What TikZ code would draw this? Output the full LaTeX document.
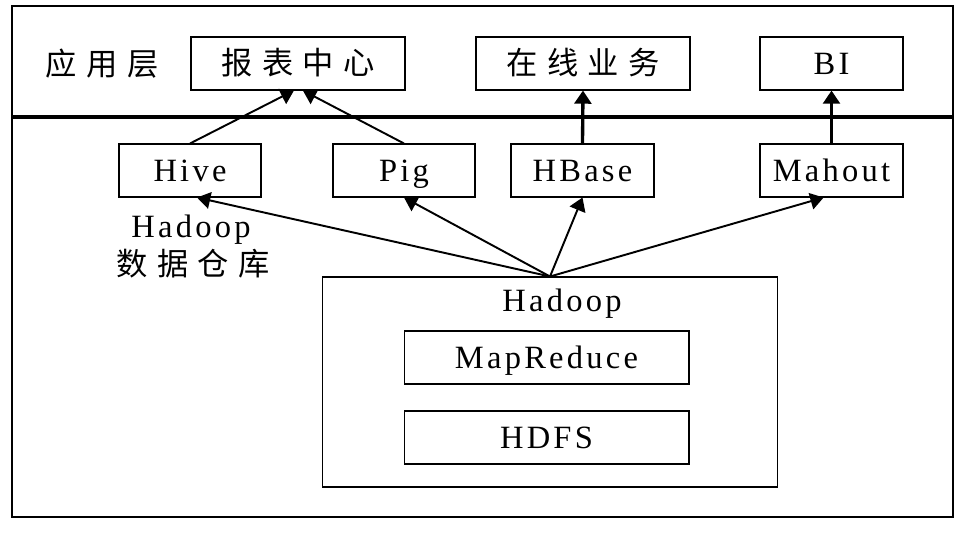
\documentclass[tikz,border=0pt]{standalone}
\usepackage{fontspec}
\usetikzlibrary{arrows.meta}
\newfontfamily\latinfont[LetterSpace=10]{Liberation Serif}
\newfontfamily\cjk[LetterSpace=30]{Noto Sans CJK SC}

\begin{document}
\begin{tikzpicture}[
    x=0.02cm, y=-0.02cm,
    >={Triangle[length=7.5pt, width=9.5pt]},
    box/.style={draw, line width=0.6pt, minimum height=1.06cm, inner sep=0pt,
        text height=15pt, text depth=3pt},
    lat/.style={font=\latinfont\fontsize{18.5}{21}\selectfont},
    zh/.style={font=\cjk\fontsize{17.8}{20}\selectfont},
    arr/.style={->, line width=1.1pt},
    thickarr/.style={->, line width=1.9pt},
]
\useasboundingbox (0,0) rectangle (967,534);

% frame and layer divider
\draw[line width=0.6pt] (12,6) rectangle (953,517);
\draw[line width=2.3pt] (11,117) -- (954,117);

% application layer
\node[zh] (applabel) at (102,64) {应用层};
\node[box, zh, minimum width=4.28cm] (report) at (298,63.5) {报表中心};
\node[box, zh, minimum width=4.28cm] (online) at (583,63.5) {在线业务};
\node[box, lat, minimum width=2.86cm] (bi) at (831.5,63.5) {BI};

% tools on top of hadoop
\node[box, lat, minimum width=2.84cm] (hive) at (190,170.5) {Hive};
\node[box, lat, minimum width=2.84cm] (pig) at (404,170.5) {Pig};
\node[box, lat, minimum width=2.86cm] (hbase) at (582.5,170.5) {HBase};
\node[box, lat, minimum width=2.86cm] (mahout) at (831.5,170.5) {Mahout};

\node[lat] (warehouse) at (191,230) {Hadoop};
\node[zh] (warehousezh) at (193,264) {数据仓库};

% hadoop core
\node[box, minimum width=9.12cm, minimum height=4.2cm] (hadoop) at (550,382) {};
\node[lat] (hadooptitle) at (562,304) {Hadoop};
\node[box, lat, minimum width=5.7cm] (mapreduce) at (546.5,357.5) {MapReduce};
\node[box, lat, minimum width=5.7cm] (hdfs) at (546.5,437.5) {HDFS};

% connectors
\draw[arr] (hadoop.north) -- ([xshift=4pt]hive.south);
\draw[arr] (hadoop.north) -- (pig.south);
\draw[arr] (hadoop.north) -- (hbase.south);
\draw[arr] (hadoop.north) -- ([xshift=-4.5pt]mahout.south);
\draw[arr] (hive.north) -- ([xshift=-2.3pt]report.south);
\draw[arr] (pig.north) -- ([xshift=2.8pt]report.south);
\draw[thickarr] (hbase.north) -- (online.south);
\draw[thickarr] (mahout.north) -- (bi.south);

\end{tikzpicture}
\end{document}
